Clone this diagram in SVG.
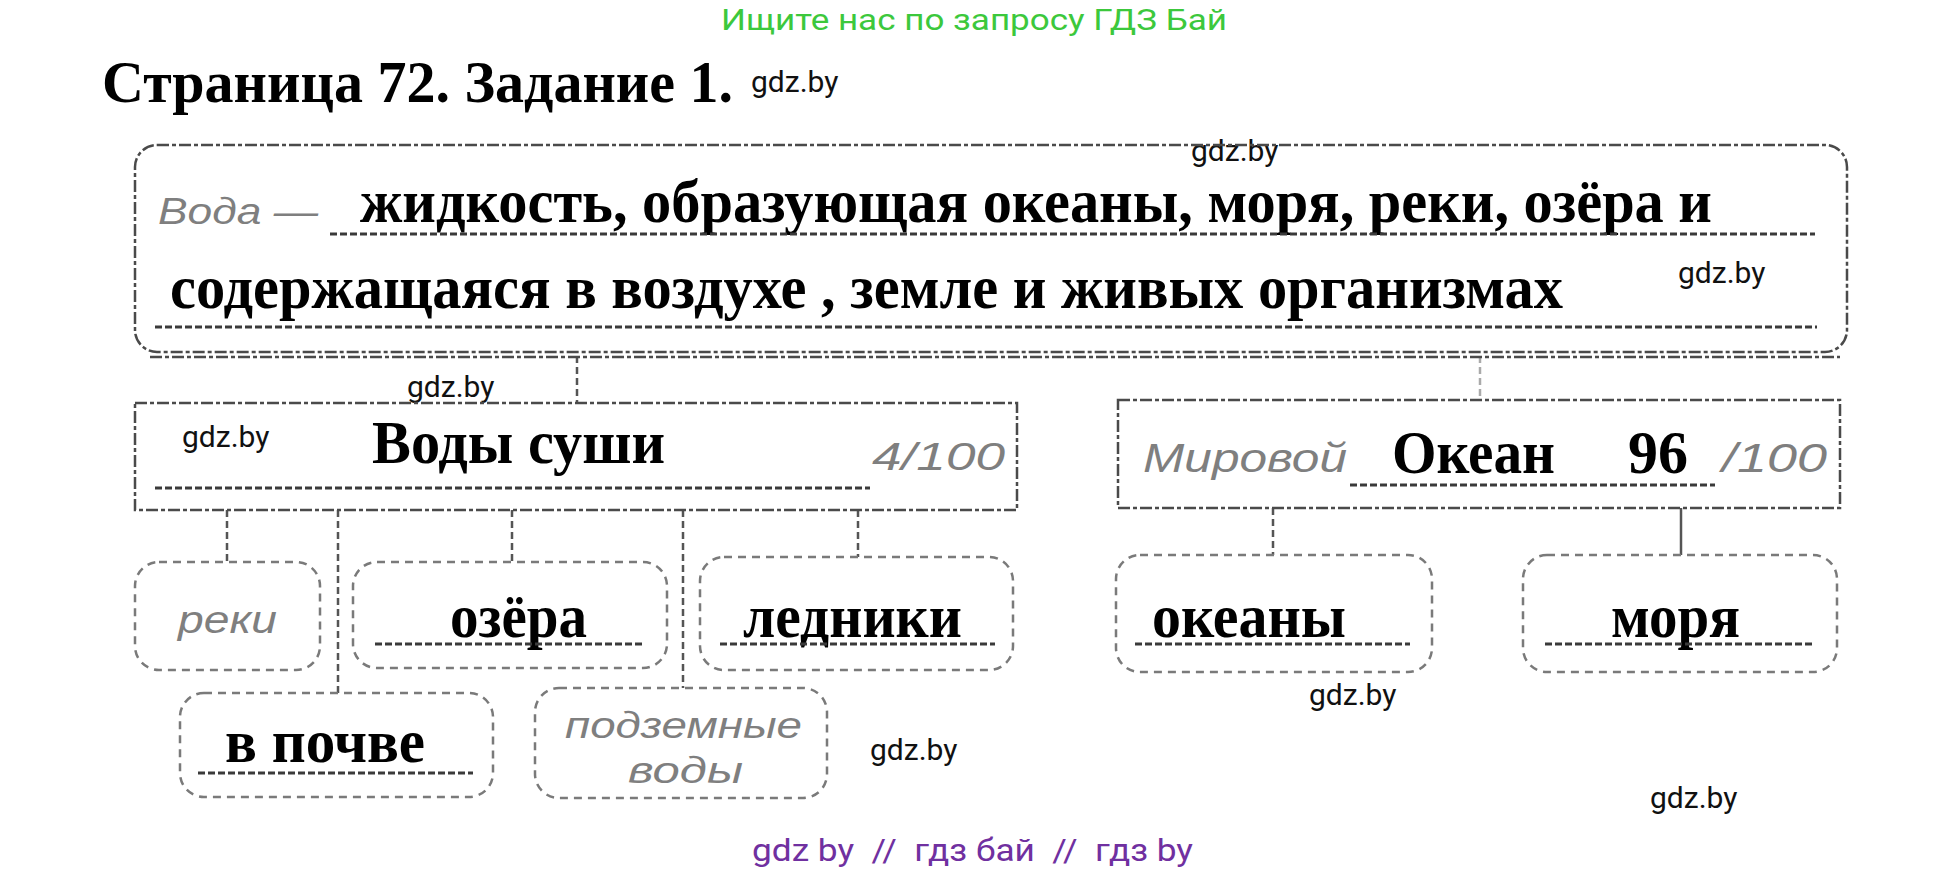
<svg xmlns="http://www.w3.org/2000/svg" width="1949" height="872" viewBox="0 0 1949 872">
<style>
.box{fill:none;stroke:#4a4a4a;stroke-width:2.5;stroke-dasharray:12 3 4 3}
.sub{fill:none;stroke:#7a7a7a;stroke-width:2.5;stroke-dasharray:8 6}
.ul{stroke:#3a3a3a;stroke-width:3;stroke-dasharray:7 3}
.conn{stroke:#555;stroke-width:2.5;stroke-dasharray:7 4}
.b{font-family:"Liberation Serif",serif;font-weight:bold;fill:#000}
.hw{font-family:"Liberation Sans",sans-serif;font-style:italic;fill:#7f7f7f}
.wm{font-family:Roboto,"Liberation Sans",sans-serif;font-size:30px;fill:#111}
</style>
<rect width="1949" height="872" fill="#fff"/>
<text x="721" y="30" font-family="Roboto, 'Liberation Sans', sans-serif" font-size="30" fill="#3cc83c" textLength="506" lengthAdjust="spacingAndGlyphs">Ищите нас по запросу ГДЗ Бай</text>
<text class="b" x="102" y="102" font-size="60" textLength="631" lengthAdjust="spacingAndGlyphs">Страница 72. Задание 1.</text>
<g id="watermarks">
<text class="wm" x="751" y="92">gdz.by</text>
<text class="wm" x="1191" y="161">gdz.by</text>
<text class="wm" x="1678" y="283">gdz.by</text>
<text class="wm" x="407" y="397">gdz.by</text>
<text class="wm" x="182" y="447">gdz.by</text>
<text class="wm" x="870" y="760">gdz.by</text>
<text class="wm" x="1309" y="705">gdz.by</text>
<text class="wm" x="1650" y="808">gdz.by</text>
</g>
<g id="connectors">
<line class="conn" x1="577" y1="356" x2="577" y2="403"/>
<line class="conn" x1="1480" y1="356" x2="1480" y2="400" style="stroke:#aaa"/>
<line class="conn" x1="227" y1="510" x2="227" y2="562"/>
<line class="conn" x1="338" y1="510" x2="338" y2="693"/>
<line class="conn" x1="512" y1="510" x2="512" y2="562"/>
<line class="conn" x1="683" y1="510" x2="683" y2="688"/>
<line class="conn" x1="858" y1="510" x2="858" y2="557"/>
<line class="conn" x1="1273" y1="508" x2="1273" y2="555"/>
<line class="conn" x1="1681" y1="508" x2="1681" y2="555" style="stroke-dasharray:none"/>
</g>
<g id="water">
<rect class="box" x="135" y="145" width="1712" height="207" rx="22"/>
<line class="box" x1="150" y1="357" x2="1840" y2="357"/>
<text class="hw" x="158" y="224" font-size="36" textLength="160" lengthAdjust="spacingAndGlyphs">Вода —</text>
<text class="b" x="360" y="222" font-size="61" textLength="1352" lengthAdjust="spacingAndGlyphs">жидкость, образующая океаны, моря, реки, озёра и</text>
<line class="ul" x1="330" y1="234" x2="1815" y2="234"/>
<text class="b" x="170" y="308" font-size="62" textLength="1393" lengthAdjust="spacingAndGlyphs">содержащаяся в воздухе , земле и живых организмах</text>
<line class="ul" x1="155" y1="327" x2="1817" y2="327"/>
</g>
<g id="land-water">
<rect class="box" x="135" y="403" width="882" height="107"/>
<text class="b" x="372" y="463" font-size="62" textLength="293" lengthAdjust="spacingAndGlyphs">Воды суши</text>
<line class="ul" x1="155" y1="488" x2="870" y2="488"/>
<text class="hw" x="872" y="470" font-size="38" textLength="133" lengthAdjust="spacingAndGlyphs">4/100</text>
</g>
<g id="ocean">
<rect class="box" x="1118" y="400" width="722" height="108"/>
<text class="hw" x="1143" y="472" font-size="40" textLength="204" lengthAdjust="spacingAndGlyphs">Мировой</text>
<text class="b" x="1392" y="473" font-size="62" textLength="163" lengthAdjust="spacingAndGlyphs">Океан</text>
<text class="b" x="1628" y="473" font-size="62" textLength="60" lengthAdjust="spacingAndGlyphs">96</text>
<text class="hw" x="1722" y="472" font-size="40" textLength="105" lengthAdjust="spacingAndGlyphs">/100</text>
<line class="ul" x1="1350" y1="485" x2="1715" y2="485"/>
</g>
<g id="rivers">
<rect class="sub" x="135" y="562" width="185" height="108" rx="24"/>
<text class="hw" x="178" y="633" font-size="38" textLength="99" lengthAdjust="spacingAndGlyphs">реки</text>
</g>
<g id="lakes">
<rect class="sub" x="353" y="562" width="314" height="106" rx="24"/>
<text class="b" x="450" y="637" font-size="62" textLength="137" lengthAdjust="spacingAndGlyphs">озёра</text>
<line class="ul" x1="375" y1="644" x2="645" y2="644"/>
</g>
<g id="glaciers">
<rect class="sub" x="700" y="557" width="313" height="113" rx="24"/>
<text class="b" x="743" y="637" font-size="62" textLength="219" lengthAdjust="spacingAndGlyphs">ледники</text>
<line class="ul" x1="720" y1="644" x2="995" y2="644"/>
</g>
<g id="oceans">
<rect class="sub" x="1116" y="555" width="316" height="117" rx="24"/>
<text class="b" x="1152" y="637" font-size="62" textLength="194" lengthAdjust="spacingAndGlyphs">океаны</text>
<line class="ul" x1="1135" y1="644" x2="1410" y2="644"/>
</g>
<g id="seas">
<rect class="sub" x="1523" y="555" width="314" height="117" rx="24"/>
<text class="b" x="1611" y="637" font-size="62" textLength="129" lengthAdjust="spacingAndGlyphs">моря</text>
<line class="ul" x1="1545" y1="644" x2="1815" y2="644"/>
</g>
<g id="soil">
<rect class="sub" x="180" y="693" width="313" height="104" rx="24"/>
<text class="b" x="225" y="762" font-size="62" textLength="200" lengthAdjust="spacingAndGlyphs">в почве</text>
<line class="ul" x1="198" y1="773" x2="473" y2="773"/>
</g>
<g id="groundwater">
<rect class="sub" x="535" y="688" width="292" height="110" rx="24"/>
<text class="hw" x="565" y="738" font-size="36" textLength="237" lengthAdjust="spacingAndGlyphs">подземные</text>
<text class="hw" x="628" y="783" font-size="36" textLength="115" lengthAdjust="spacingAndGlyphs">воды</text>
</g>
<text x="752" y="861" font-family="Roboto, 'Liberation Sans', sans-serif" font-size="32" fill="#7030a0" textLength="441" lengthAdjust="spacingAndGlyphs" xml:space="preserve">gdz by  //  гдз бай  //  гдз by</text>
</svg>
